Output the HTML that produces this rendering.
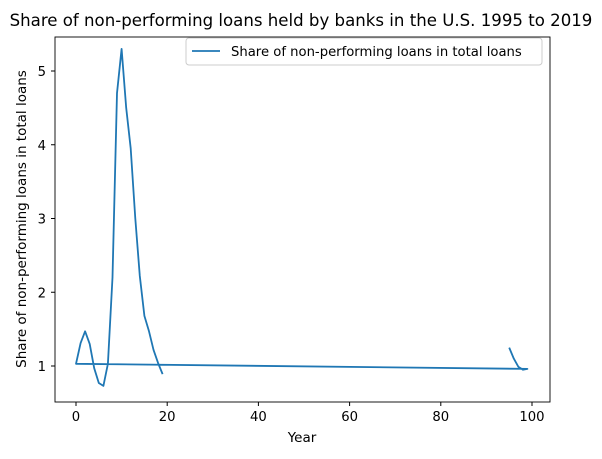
<!DOCTYPE html>
<html><head><meta charset="utf-8"><style>
body{margin:0;background:#fff;font-family:"DejaVu Sans","Liberation Sans",sans-serif;}
svg text{font-family:"DejaVu Sans","Liberation Sans",sans-serif;fill:#000}
</style></head><body>
<svg id="chart" width="602" height="455" viewBox="0 0 602 455">
<rect width="602" height="455" fill="#fff"/>
<text x="301" y="26" text-anchor="middle" font-size="16.6">Share of non-performing loans held by banks in the U.S. 1995 to 2019</text>
<g id="axes"></g>
<path id="line" fill="none" stroke="#1f77b4" stroke-width="1.8" stroke-linejoin="round"/>
<rect x="55" y="37" width="495" height="365" fill="none" stroke="#000" stroke-width="0.9"/>
<g>
<rect x="186" y="38" width="356" height="27" rx="3" fill="#fff" stroke="#ccc"/>
<line x1="192" y1="51" x2="220" y2="51" stroke="#1f77b4" stroke-width="1.8"/>
<text x="231" y="56" font-size="13.2">Share of non-performing loans in total loans</text>
</g>
<text x="302" y="442" text-anchor="middle" font-size="13.5">Year</text>
<text transform="translate(26,219) rotate(-90)" text-anchor="middle" font-size="13.5">Share of non-performing loans in total loans</text>
</svg>
<script>
const years=[95,96,97,98,99,0,1,2,3,4,5,6,7,8,9,10,11,12,13,14,15,16,17,18,19];
const shares=[1.25,1.1,0.99,0.95,0.96,1.03,1.31,1.47,1.3,0.97,0.77,0.73,1.03,2.2,4.7,5.3,4.5,3.95,3.0,2.22,1.68,1.47,1.22,1.04,0.89];
const xTicks=[0,20,40,60,80,100];
const yTicks=[1,2,3,4,5];
const X=v=>76+v*4.56;
const Y=v=>366-(v-1)*73.75;
const ax=document.getElementById('axes');
const NS='http://www.w3.org/2000/svg';
xTicks.forEach(t=>{
 const l=document.createElementNS(NS,'line');
 l.setAttribute('x1',X(t));l.setAttribute('x2',X(t));l.setAttribute('y1',402);l.setAttribute('y2',406);l.setAttribute('stroke','#000');
 
 
 ax.appendChild(l);
 const tx=document.createElementNS(NS,'text');
 tx.setAttribute('x',X(t));tx.setAttribute('y',421);tx.setAttribute('text-anchor','middle');tx.setAttribute('font-size','13.2');tx.textContent=t;
 
 
 ax.appendChild(tx);
});
yTicks.forEach(t=>{
 const l=document.createElementNS(NS,'line');
 l.setAttribute('x1',51);l.setAttribute('x2',55);l.setAttribute('y1',Y(t));l.setAttribute('y2',Y(t));l.setAttribute('stroke','#000');
 
 
 ax.appendChild(l);
 const tx=document.createElementNS(NS,'text');
 tx.setAttribute('x',46);tx.setAttribute('y',Y(t)+5);tx.setAttribute('text-anchor','end');tx.setAttribute('font-size','13.2');tx.textContent=t;
 
 
 ax.appendChild(tx);
});
document.getElementById('line').setAttribute('d',years.map((x,i)=>(i?'L':'M')+X(x).toFixed(1)+','+Y(shares[i]).toFixed(1)).join(''));
</script>
</body></html>
